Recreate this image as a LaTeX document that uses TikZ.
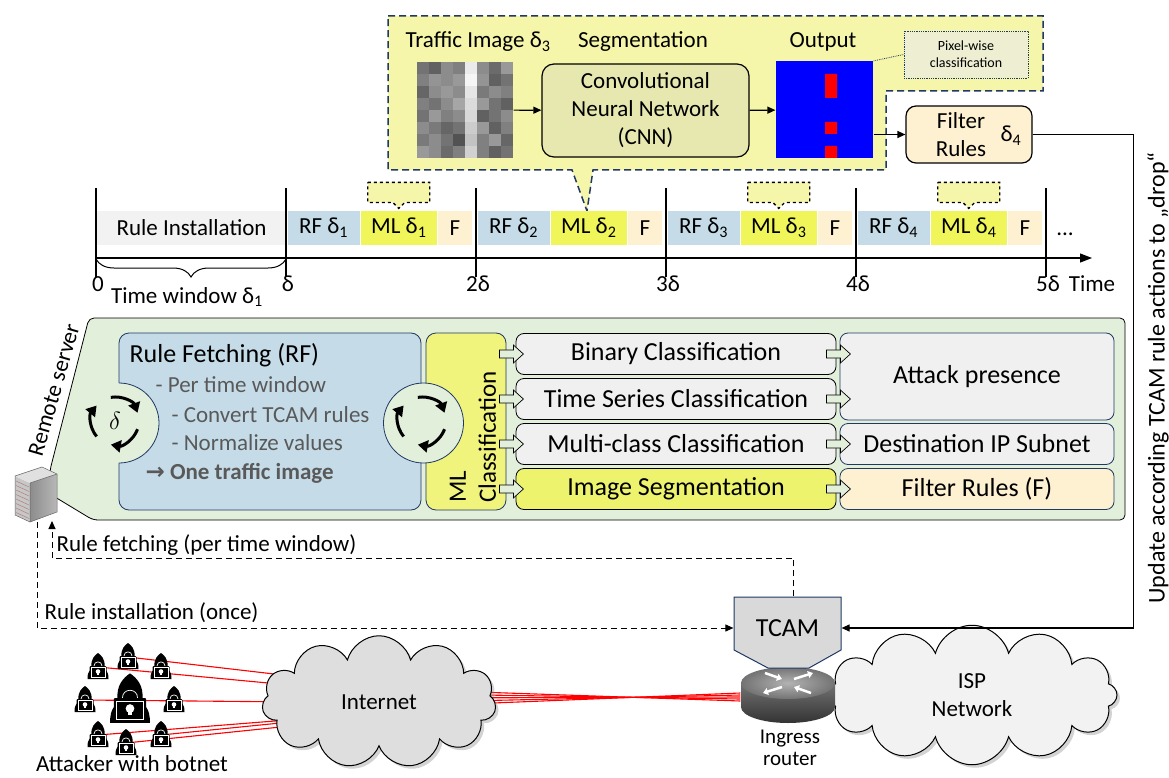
\documentclass[tikz,border=0pt]{standalone}
\usepackage{fontspec}
\setmainfont{Carlito}
\newfontfamily\symfont{DejaVu Sans}
\usetikzlibrary{arrows.meta,calc,shapes.symbols,shadows,decorations.pathreplacing,backgrounds}

\definecolor{panelgreen}{RGB}{226,239,218}
\definecolor{rfblue}{RGB}{197,220,232}
\definecolor{mlyellow}{RGB}{240,245,90}
\definecolor{mlbox}{RGB}{240,244,125}
\definecolor{segyellow}{RGB}{238,243,110}
\definecolor{calloutfill}{RGB}{246,246,170}
\definecolor{cream}{RGB}{254,241,210}
\definecolor{boxgray}{RGB}{240,240,240}
\definecolor{instgray}{RGB}{242,242,242}
\definecolor{navy}{RGB}{31,56,100}
\definecolor{cnnfill}{RGB}{230,232,176}
\definecolor{pixfill}{RGB}{238,239,210}
\definecolor{tcamgray}{RGB}{217,217,217}
\definecolor{textgray}{RGB}{89,89,89}

\tikzset{
  hacker/.pic={
    \fill (-6.5,0) .. controls (-7.5,-8) and (-3,-12) .. (0,-14) .. controls (3,-12) and (7.5,-8) .. (6.5,0) -- cycle;
    \draw[white,line width=0.7pt] (-4,-1) .. controls (-4,-6.5) and (4,-6.5) .. (4,-1);
    \fill (-10.5,12) .. controls (-10.5,4) and (-8,1) .. (0,1) .. controls (8,1) and (10.5,4) .. (10.5,12) -- cycle;
    \fill[rounded corners=1pt] (-8.5,-1) rectangle (8.5,11.5);
    \draw[white,line width=0.6pt] (-7,0.5) rectangle (7,10);
    \fill[white] (0,4.5) circle[radius=2.3];
    \fill[white] (-1.1,6.2) rectangle (1.1,7.8);
  },
  hollow arrow/.pic={
    \filldraw[fill=panelgreen,line width=0.7pt] (-12,-4) -- (2,-4) -- (2,-9) -- (12,0) -- (2,9) -- (2,4) -- (-12,4) -- cycle;
  }
}

\begin{document}
\begin{tikzpicture}[x=1pt,y=-1pt,line width=1.2pt,
    font=\fontsize{23}{28}\selectfont,
    every node/.style={inner sep=2pt},
    bar/.style={anchor=west,minimum height=34,inner sep=0pt},
    clsbox/.style={draw,line width=0.8pt,rounded corners=8,fill=boxgray,minimum width=320,minimum height=41,font=\fontsize{26}{30}\selectfont},
    resbox/.style={draw=navy,line width=0.8pt,rounded corners=8,fill=boxgray,minimum width=274,minimum height=41,font=\fontsize{26}{30}\selectfont},
    arr/.style={-{Triangle[length=8pt,width=7pt]}},
    redline/.style={red,line width=1.1pt},
    dashline/.style={dashed,dash pattern=on 6pt off 4pt,line width=1pt}]

\useasboundingbox (0,0) rectangle (1169,778);

% segmentation callout
\draw[navy,dash pattern=on 7pt off 4pt,line width=1.5pt,fill=calloutfill]
  (388,16) -- (1043,16) -- (1043,91) -- (886,91) -- (886,170) -- (593,170)
  -- (587,211) -- (572,170) -- (388,170) -- cycle;
\node (lblimg) at (478,42) {Traffic Image δ\textsubscript{3}};
\node (lblseg) at (643,42) {Segmentation};
\node (lblout) at (823,42) {Output};

% traffic image pixels
\foreach \r/\row in {0/{55,62,45,50,8,45,58,40},1/{50,42,45,40,4,42,62,55},
    2/{60,45,40,45,10,52,45,50},3/{50,55,45,35,14,40,55,62},4/{55,40,50,45,15,62,55,45},
    5/{45,52,60,55,20,40,62,50},6/{52,45,55,68,24,50,40,60},7/{40,45,58,50,18,50,62,55}}
  \foreach \g [count=\c from 0] in \row
    \fill[black!\g] (417+12*\c,62+12*\r) rectangle ++(12,12);
\node[minimum size=96,inner sep=0pt] (img) at (465,110) {};

\node[draw,rounded corners=12,fill=cnnfill,minimum width=207,minimum height=93,align=center] (cnn) at (645.5,110.5) {Convolutional\\Neural Network\\(CNN)};
\node[fill=blue,minimum size=97,inner sep=0pt] (out) at (824.5,110) {};
\fill[red] (825,74) rectangle (837,98) (825,122) rectangle (837,134) (825,146) rectangle (837,158);
\draw[arr] (img) -- (cnn);
\draw[arr] (cnn) -- (out);

\node[draw=navy,densely dotted,line width=0.8pt,fill=pixfill,minimum width=124,minimum height=47,align=center,font=\fontsize{14}{17}\selectfont] (pix) at (966,54.5) {Pixel-wise\\classification};
\draw[navy,densely dotted,line width=0.8pt] (out.north east) -- (pix.west);

% filter rules sent to the router
\node[draw,rounded corners=10,fill=cream,minimum width=126,minimum height=57] (filt) at (969,134.5) {};
\node[align=center] (filttxt) at (961,135) {Filter\\Rules};
\node (filtdelta) at (1011,136) {δ\textsubscript{4}};
\draw[arr] (out.east |- filt.west) -- (filt.west);

% timeline
\node[bar,fill=instgray,minimum width=190] (inst) at (96,228) {Rule Installation};
\foreach \k/\t in {1/286,2/476,3/666,4/856}{
  \node[bar,fill=rfblue,minimum width=72] (rfbar\k) at (\t+1,228) {RF δ\textsubscript{\k}};
  \node[bar,fill=mlyellow,minimum width=76] (mlbar\k) at (rfbar\k.east) {ML δ\textsubscript{\k}};
  \node[bar,fill=cream,minimum width=34] (fbar\k) at (mlbar\k.east) {F};
}
\foreach \k in {1,3,4}
  \draw[dashed,line width=1.3pt,fill=calloutfill] ($(mlbar\k.north)+(-31,-28)$) -- ++(62,0) -- ++(0,20)
    -- ++(-25,0) -- ++(-6,6) -- ++(-6,-6) -- ++(-25,0) -- cycle;
\draw[-{Triangle[length=12pt,width=9pt]}] (96,258) -- (1092,258);
\foreach \t/\lbl in {96/0,286/δ,476/2δ,666/3δ,856/4δ,1046/5δ}{
  \draw (\t,188) -- (\t,277);
  \node (tick\t) at (\t+2,284) {\lbl};
}
\node (timelbl) at (1092,284) {Time};
\node (dots) at (1065,234) {...};
\draw[line width=1pt,decorate,decoration={brace,mirror,amplitude=18pt}] (96,259) -- (286,259);
\node (winlbl) at (187,297) {Time window δ\textsubscript{1}};

% remote server panel
\filldraw[fill=panelgreen,line width=0.8pt,rounded corners=5] (89,318) -- (1125,318) -- (1125,520) -- (93,520) -- (50,494) -- (50,470) -- cycle;
\node[rotate=74,inner sep=0pt] (srvlbl) at (54,390) {Remote server};

\node[draw=navy,line width=0.8pt,fill=rfblue,rounded corners=10,minimum width=302,minimum height=177] (fetch) at (270,421.5) {};
\node[draw=navy,line width=0.8pt,fill=mlbox,rounded corners=10,minimum width=80,minimum height=177] (mlc) at (466,421.5) {};
\fill[panelgreen] (119,423) circle[radius=40];
\draw[navy,line width=0.8pt] (119,383) arc[start angle=-90,end angle=90,radius=40];
\filldraw[fill=panelgreen,draw=navy,line width=0.8pt] (423.5,423) circle[radius=40];
\foreach \cx in {115,422}
  \foreach \a in {20,140,260}
    \draw[line width=3pt,-{Triangle[length=10pt,width=12pt]}] ($(\cx,421)+(\a:24)$) arc[start angle=\a,end angle=\a+80,radius=24];
\node[font=\fontsize{26}{30}\selectfont] (fetchcycle) at (115,421) {$\delta$};

\node[anchor=west,font=\fontsize{26}{30}\selectfont] (fetchtitle) at (127,355) {Rule Fetching (RF)};
\node[anchor=west,textgray] (fetchA) at (153,385) {- Per time window};
\node[anchor=west,textgray] (fetchB) at (169,415) {- Convert TCAM rules};
\node[anchor=west,textgray] (fetchC) at (169,443) {- Normalize values};
\node[anchor=west,textgray] (fetchD) at (143,473) {{\symfont\bfseries →} \textbf{One traffic image}};
\node[rotate=90,align=left,font=\fontsize{25}{30}\selectfont] (mltxt) at (473,437) {ML\\Classification};

\node[clsbox] (bin) at (676,354) {Binary Classification};
\node[clsbox] (ts) at (676,399) {Time Series Classification};
\node[clsbox] (mc) at (676,444) {Multi-class Classification};
\node[clsbox,fill=segyellow] (seg) at (676,489) {Image Segmentation};
\node[resbox,minimum height=87] (atk) at (977,376.5) {Attack presence};
\node[resbox] (dst) at (977,444) {Destination IP Subnet};
\node[resbox,fill=cream] (frules) at (977,489) {Filter Rules (F)};
\foreach \n in {bin,ts,mc,seg}{
  \pic at ($(mlc.east |- \n)+(5,0)$) {hollow arrow};
  \pic at ($(\n.east)+(2,0)$) {hollow arrow};
}

% server
\coordinate (srvinst) at (37,522);
\coordinate (srvfetch) at (52,521);
\fill[black!22] (15,476) -- (30,483) -- (30,522) -- (15,515) -- cycle;
\foreach \i in {0,...,7}
  \draw[red!40!black!50,line width=0.5pt] (16,481+4.5*\i) -- (29,487+4.5*\i);
\shade[left color=black!45,right color=black!28] (30,483) -- (57,474) -- (57,512) -- (30,522) -- cycle;
\fill[black!12] (15,476) -- (42,467) -- (57,474) -- (30,483) -- cycle;
\draw[black!60,line width=0.5pt] (15,476) -- (42,467) -- (57,474) -- (57,512) -- (30,522) -- (15,515) -- cycle (30,483) -- (30,522) (30,483) -- (57,474);

% ISP side
\node[cloud,cloud puffs=12,draw,line width=1pt,fill=black!5,drop shadow={shadow xshift=3pt,shadow yshift=-3pt,opacity=0.35},minimum width=290,minimum height=118,align=center] (isp) at (972,695) {ISP\\Network};

% router
\shade[top color=black!55,bottom color=black!80] (741,683) -- (741,707) arc[start angle=180,end angle=0,x radius=47,y radius=16] -- (835,683) -- cycle;
\shade[inner color=black!30,outer color=black!55] (788,683) ellipse[x radius=47,y radius=16];
\draw[white,line width=2.5pt,-{Triangle[length=5pt,width=7pt]}] (794,679) -- (813,673);
\draw[white,line width=2.5pt,-{Triangle[length=5pt,width=7pt]}] (782,687) -- (763,693);
\draw[white,line width=2.5pt,-{Triangle[length=5pt,width=7pt]}] (765,673) -- (782,679);
\draw[white,line width=2.5pt,-{Triangle[length=5pt,width=7pt]}] (811,693) -- (794,687);
\node[minimum width=94,minimum height=30,inner sep=0pt] (rtr) at (788,697) {};
\node[align=center,font=\fontsize{21}{22}\selectfont] (rtrlbl) at (790,748) {Ingress\\router};

\filldraw[fill=tcamgray,draw=navy,line width=1pt] (734,597) -- (841,597) -- (841,650) -- (809,668) -- (768,668) -- (734,650) -- cycle;
\node[minimum width=107,minimum height=62,inner sep=0pt,font=\fontsize{26}{30}\selectfont] (tcam) at (787.5,628) {TCAM};

% control paths
\coordinate (fetchcorner) at (52,558);
\draw[dashline,arr] (srvinst) |- (tcam.west);
\draw[dashline,arr] ([xshift=6pt]tcam.north) |- (fetchcorner) -- (srvfetch);
\node[anchor=west] (fetchlbl) at (54,545) {Rule fetching (per time window)};
\node[anchor=west] (instlbl) at (42,613) {Rule installation (once)};
\draw[arr] (filt.east) -- ++(101,0) |- (tcam.east);
\node[rotate=90,font=\fontsize{24}{28}\selectfont] (updlbl) at (1158,378) {Update according TCAM rule actions to „drop“};

% attacker side
\node[cloud,cloud puffs=11,draw,line width=1pt,fill=black!13,drop shadow={shadow xshift=3pt,shadow yshift=-3pt,opacity=0.35},minimum width=234,minimum height=115] (inet) at (379,702) {Internet};
\foreach \n/\x/\y in {hk1/98/667,hk2/128/657,hk3/161/667,hk4/85/700,hk6/174/700,hk7/98/735,hk8/126/743,hk9/161/735}
  \coordinate (\n) at (\x,\y);
\coordinate (hk5) at (130,700);
\begin{scope}[on background layer]
  \draw[redline] (hk2) -- (300,677);
  \draw[redline] (hk1) -- (300,686);
  \draw[redline] (hk4) -- (300,702);
  \draw[redline] (hk7) -- (300,719);
  \draw[redline] (hk9) -- (300,721);
  \draw[redline] (hk8) -- (300,725);
  \foreach \i in {0,...,4}
    \draw[redline] ($(inet.center)+(40,-12+4*\i)$) -- ([yshift=2*\i-4]rtr.west);
\end{scope}
\foreach \n in {hk1,hk2,hk3,hk4,hk6,hk7,hk8,hk9}
  \pic at (\n) {hacker};
\pic[scale=1.9] at (hk5) {hacker};
\node (botlbl) at (132,764) {Attacker with botnet};

\end{tikzpicture}
\end{document}
